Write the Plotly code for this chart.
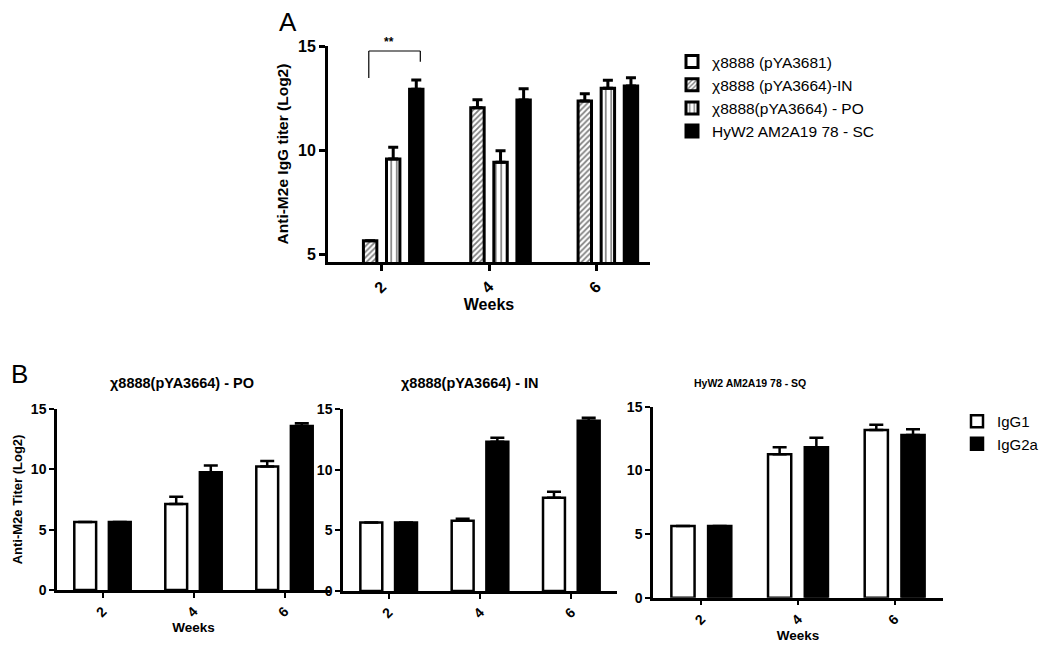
import plotly.graph_objects as go

# ---------------- data ----------------
weeks = [2, 4, 6]

# Panel A: anti-M2e IgG titer (log2), bar heights and upper error bars
a_names = ["χ8888 (pYA3681)", "χ8888 (pYA3664)-IN", "χ8888(pYA3664) - PO", "HyW2 AM2A19 78 - SC"]
a_pya3681 = [None, None, None]
a_pya3681_err = [0, 0, 0]
a_in = [5.64, 12.03, 12.36]
a_in_err = [0, 0.39, 0.35]
a_po = [9.57, 9.41, 12.97]
a_po_err = [0.56, 0.56, 0.38]
a_sc = [12.92, 12.40, 13.08]
a_sc_err = [0.45, 0.55, 0.40]

# Panel B: IgG1 / IgG2a titers (log2)
b_titles = ["χ8888(pYA3664) - PO", "χ8888(pYA3664) - IN", "HyW2 AM2A19 78 - SQ"]
b_series = ["IgG1", "IgG2a"]
b_po_igg1 = [5.64, 7.12, 10.23]
b_po_igg1_err = [0, 0.60, 0.47]
b_po_igg2a = [5.64, 9.76, 13.60]
b_po_igg2a_err = [0, 0.55, 0.22]
b_in_igg1 = [5.64, 5.80, 7.68]
b_in_igg1_err = [0, 0.15, 0.49]
b_in_igg2a = [5.64, 12.30, 14.03]
b_in_igg2a_err = [0, 0.33, 0.24]
b_sq_igg1 = [5.64, 11.26, 13.17]
b_sq_igg1_err = [0, 0.55, 0.42]
b_sq_igg2a = [5.64, 11.81, 12.78]
b_sq_igg2a_err = [0, 0.76, 0.45]

# ---------------- styling ----------------
FONT = "Liberation Sans, Arial, sans-serif"
W, H = 1050, 650


def px_x(a, b):
    return [a / W, b / W]


def px_y(bottom, top):
    return [1 - bottom / H, 1 - top / H]


fig = go.Figure()

# ---- Panel A bars ----
a_width = 0.25
a_slot = 0.43
a_styles = [
    dict(color="white", pattern=None),
    dict(color="white", pattern=dict(shape="/", fgcolor="black", bgcolor="white", size=4, solidity=0.45)),
    dict(color="white", pattern=dict(shape="|", fgcolor="black", bgcolor="white", size=5.5, solidity=0.3)),
    dict(color="black", pattern=None),
]
a_vals = [a_pya3681, a_in, a_po, a_sc]
a_errs = [a_pya3681_err, a_in_err, a_po_err, a_sc_err]
for i, (name, vals, errs, st) in enumerate(zip(a_names, a_vals, a_errs, a_styles)):
    center = (i - 1.5) * a_slot
    marker = dict(color=st["color"], line=dict(color="black", width=3))
    if st["pattern"]:
        marker["pattern"] = st["pattern"]
    fig.add_trace(go.Bar(
        x=weeks, y=vals, name=name, xaxis="x", yaxis="y",
        width=a_width, offset=center - a_width / 2,
        marker=marker,
        error_y=dict(type="data", array=errs, arrayminus=[0] * len(errs), symmetric=False,
                     color="black", thickness=3, width=5),
        legend="legend", showlegend=True,
    ))

# ---- Panel B bars ----
b_width = 0.48
b_shift = 0.38
b_sets = [
    (b_po_igg1, b_po_igg1_err, b_po_igg2a, b_po_igg2a_err),
    (b_in_igg1, b_in_igg1_err, b_in_igg2a, b_in_igg2a_err),
    (b_sq_igg1, b_sq_igg1_err, b_sq_igg2a, b_sq_igg2a_err),
]
for k, (g1, g1e, g2, g2e) in enumerate(b_sets):
    xa = "x%d" % (k + 2)
    ya = "y%d" % (k + 2)
    for j, (vals, errs, col) in enumerate([(g1, g1e, "white"), (g2, g2e, "black")]):
        center = (-1 if j == 0 else 1) * b_shift
        fig.add_trace(go.Bar(
            x=weeks, y=vals, name=b_series[j], xaxis=xa, yaxis=ya,
            width=b_width, offset=center - b_width / 2,
            marker=dict(color=col, line=dict(color="black", width=2.5)),
            error_y=dict(type="data", array=errs, arrayminus=[0] * len(errs), symmetric=False,
                         color="black", thickness=2.5, width=7),
            legend="legend2", showlegend=(k == 0),
        ))

axis_common = dict(showgrid=False, zeroline=False, showline=True, linecolor="black",
                   ticks="outside", tickcolor="black", mirror=False, automargin=False)

layout = dict(
    width=W, height=H, margin=dict(l=0, r=0, t=0, b=0, autoexpand=False),
    paper_bgcolor="white", plot_bgcolor="white",
    barmode="overlay",
    font=dict(family=FONT, color="black"),
    xaxis=dict(domain=px_x(328, 650), anchor="y", range=[1, 7], tickvals=weeks, tickangle=-45,
               linewidth=3, tickwidth=2.5, ticklen=6,
               tickfont=dict(size=16, weight="bold"),
               title=dict(text="Weeks", font=dict(size=16, weight="bold"), standoff=4),
               **axis_common),
    yaxis=dict(domain=px_y(262, 46), anchor="x", range=[4.62, 15], tickvals=[5, 10, 15],
               linewidth=3, tickwidth=2.5, ticklen=6,
               tickfont=dict(size=16, weight="bold"),
               title=dict(text="Anti-M2e IgG titer (Log2)", font=dict(size=15.5, weight="bold"), standoff=6),
               **axis_common),
    legend=dict(x=672 / W, y=1 - 45 / H, xanchor="left", yanchor="top",
                font=dict(size=15.5, family=FONT), bgcolor="rgba(0,0,0,0)", traceorder="normal"),
    legend2=dict(x=957 / W, y=1 - 405 / H, xanchor="left", yanchor="top",
                 font=dict(size=15, family=FONT), bgcolor="rgba(0,0,0,0)", traceorder="normal"),
)

b_xdom = [px_x(57, 330), px_x(343, 617), px_x(653, 943)]
b_ydom = [px_y(590, 409), px_y(591, 409), px_y(597.7, 406.7)]
for k in range(3):
    n = k + 2
    xt = dict(text="Weeks", font=dict(size=13.5, weight="bold"), standoff=4) if k != 1 else None
    xd = dict(domain=b_xdom[k], anchor="y%d" % n, range=[1, 7], tickvals=weeks, tickangle=-45,
              linewidth=2.5, tickwidth=2, ticklen=5,
              tickfont=dict(size=14, weight="bold"), **axis_common)
    if xt:
        xd["title"] = xt
    yd = dict(domain=b_ydom[k], anchor="x%d" % n, range=[0, 15], tickvals=[0, 5, 10, 15],
              linewidth=2.5, tickwidth=2, ticklen=5,
              tickfont=dict(size=14, weight="bold"), **axis_common)
    if k == 0:
        yd["title"] = dict(text="Anti-M2e Titer (Log2)", font=dict(size=13, weight="bold"), standoff=6)
    layout["xaxis%d" % n] = xd
    layout["yaxis%d" % n] = yd

fig.update_layout(**layout)

# significance bracket (panel A, week 2)
br_left, br_right = 1.76, 2.72
br_top, br_left_low, br_right_low = 14.76, 13.46, 14.24
for (x0, y0, x1, y1) in [(br_left, br_left_low, br_left, br_top),
                         (br_left, br_top, br_right, br_top),
                         (br_right, br_top, br_right, br_right_low)]:
    fig.add_shape(type="line", xref="x", yref="y", x0=x0, y0=y0, x1=x1, y1=y1,
                  line=dict(color="black", width=1.2))

annotations = [
    dict(text="**", x=(br_left + br_right) / 2 - 0.1, y=br_top, xref="x", yref="y",
         yanchor="bottom", showarrow=False, font=dict(size=12, weight="bold")),
    dict(text="A", x=288 / W, y=1 - 22 / H, showarrow=False, font=dict(size=26)),
    dict(text="B", x=19 / W, y=1 - 374 / H, showarrow=False, font=dict(size=26)),
    dict(text=b_titles[0], x=182 / W, y=1 - 383 / H, showarrow=False, font=dict(size=14.5, weight="bold")),
    dict(text=b_titles[1], x=470 / W, y=1 - 383 / H, showarrow=False, font=dict(size=14.5, weight="bold")),
    dict(text=b_titles[2], x=750 / W, y=1 - 383 / H, showarrow=False, font=dict(size=10.5, weight="bold")),
]
for a in annotations:
    if a.get("xref") is None:
        a.update(xref="paper", yref="paper", xanchor="center", yanchor="middle")
    fig.add_annotation(**a)

fig.write_html("out.html", config={"displayModeBar": False},
               post_script="document.body.style.margin='0';")
